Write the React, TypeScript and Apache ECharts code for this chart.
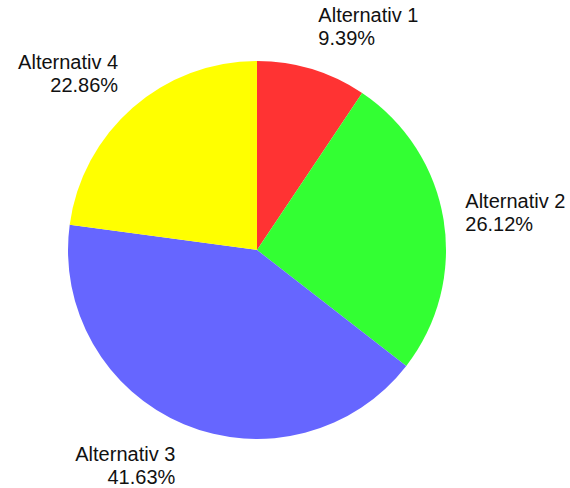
import React, { useEffect, useRef } from "react";
import * as echarts from "echarts";

const categories = ["Alternativ 1", "Alternativ 2", "Alternativ 3", "Alternativ 4"];
const shares = [9.39, 26.12, 41.63, 22.86];
const colors = ["#FF3333", "#33FF33", "#6666FF", "#FFFF00"];

const CX = 257;
const CY = 250;
const RADIUS = 189;
const LABEL_R = 211;

export default function App() {
  const ref = useRef<HTMLDivElement>(null);

  useEffect(() => {
    if (!ref.current) return;
    const chart = echarts.init(ref.current, undefined, { renderer: "svg" });
    const total = shares.reduce((a, b) => a + b, 0);
    const starts: number[] = [];
    let acc = 0;
    shares.forEach((v) => {
      starts.push(acc);
      acc += v;
    });

    chart.setOption({
      animation: false,
      backgroundColor: "#ffffff",
      series: [
        {
          type: "pie",
          center: [CX, CY],
          radius: RADIUS,
          startAngle: 90,
          clockwise: true,
          data: categories.map((name, i) => ({
            name,
            value: shares[i],
            itemStyle: { color: colors[i] },
          })),
          itemStyle: { borderWidth: 0 },
          emphasis: { disabled: true },
          labelLine: { show: false },
          label: {
            show: true,
            position: "outside",
            alignTo: "none",
            overflow: "none",
            width: 200,
            fontFamily: "Liberation Sans, Arial, sans-serif",
            fontSize: 20,
            lineHeight: 23,
            color: "#111111",
            formatter: (p: any) => `${p.name}\n${Number(p.value).toFixed(2)}%`,
          },
          labelLayout: (p: any) => {
            const i = p.dataIndex;
            const mid = ((starts[i] + shares[i] / 2) / total) * Math.PI * 2;
            const dx = Math.sin(mid);
            const dy = -Math.cos(mid);
            const ax = CX + dx * LABEL_R;
            const ay = CY + dy * LABEL_R;
            const h = p.labelRect.height;
            return {
              x: ax,
              y: ay - (h * (1 - dy)) / 2,
              align: dx >= 0 ? "left" : "right",
              verticalAlign: "top",
            };
          },
        },
      ],
    });
    return () => chart.dispose();
  }, []);

  return (
    <div
      ref={ref}
      style={{ position: "absolute", left: 0, top: 0, width: 570, height: 488 }}
    />
  );
}
